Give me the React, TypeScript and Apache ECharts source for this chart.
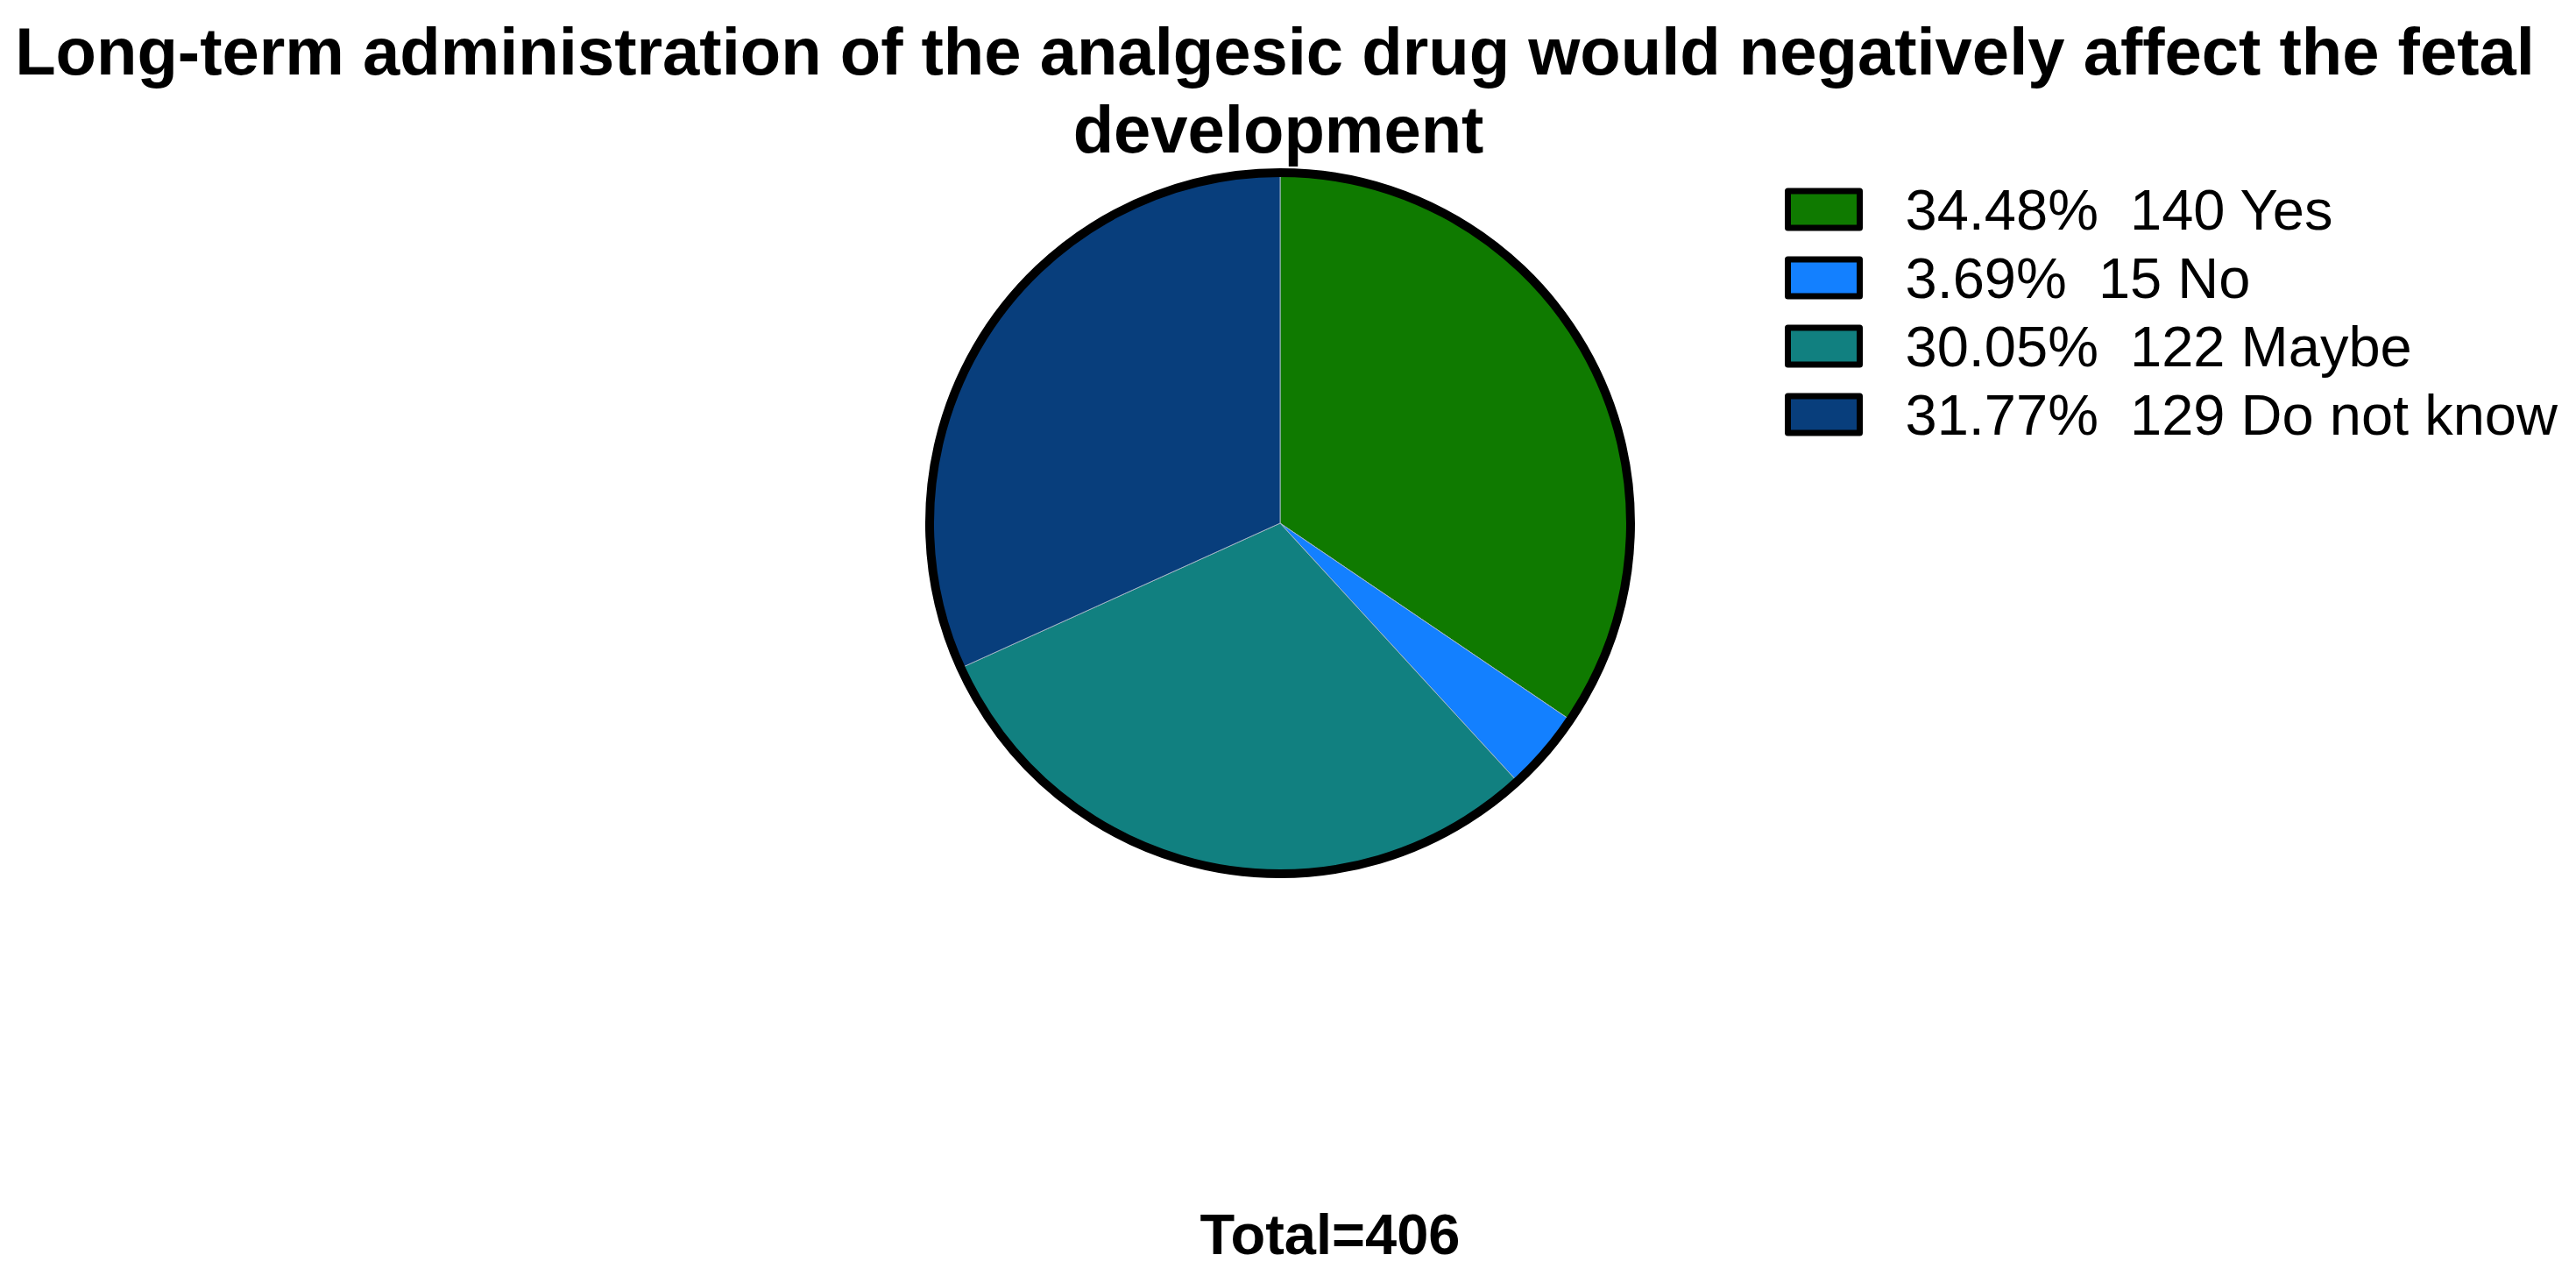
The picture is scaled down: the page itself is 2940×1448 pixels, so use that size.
import React, { useEffect, useRef } from "react";
import * as echarts from "echarts";

const categories = ["Yes", "No", "Maybe", "Do not know"];
const counts = [140, 15, 122, 129];
const colors = ["#0F7A00", "#1380FF", "#118080", "#083E7C"];
const titleLines = [
  "Long-term administration of the analgesic drug would negatively affect the fetal",
  "development",
];
const totalLabel = "Total=406";

const FONT = "'Liberation Sans', Arial, Helvetica, sans-serif";

export default function App() {
  const ref = useRef<HTMLDivElement>(null);

  useEffect(() => {
    if (!ref.current) return;
    const chart = echarts.init(ref.current, undefined, { renderer: "svg" });
    const total = counts.reduce((a, b) => a + b, 0);
    const data = categories.map((name, i) => ({
      name,
      value: counts[i],
      itemStyle: { color: colors[i] },
    }));

    const textEl = (text: string, x: number, y: number, size: number) => ({
      type: "text",
      x,
      y,
      silent: true,
      style: {
        text,
        fontFamily: FONT,
        fontSize: size,
        fontWeight: "bold",
        fill: "#000",
        align: "center",
        verticalAlign: "middle",
      },
    });

    chart.setOption({
      animation: false,
      backgroundColor: "#ffffff",
      textStyle: { fontFamily: FONT },
      graphic: [
        textEl(titleLines[0], 1455, 58, 76),
        textEl(titleLines[1], 1459, 147, 76),
        textEl(totalLabel, 1518, 1408, 65),
      ],
      legend: {
        data: categories,
        orient: "vertical",
        left: 2032,
        top: 201,
        itemWidth: 82,
        itemHeight: 42,
        itemGap: 12,
        icon: "rect",
        selectedMode: false,
        itemStyle: { borderColor: "#000", borderWidth: 7 },
        textStyle: {
          fontFamily: FONT,
          fontSize: 65,
          lineHeight: 66,
          color: "#000",
          padding: [0, 0, 0, 47],
        },
        formatter: (name: string) => {
          const i = categories.indexOf(name);
          const pct = ((counts[i] / total) * 100).toFixed(2);
          return `${pct}%  ${counts[i]} ${name}`;
        },
      },
      series: [
        {
          type: "pie",
          center: [1461, 597],
          radius: 400,
          startAngle: 90,
          clockwise: true,
          silent: true,
          label: { show: false },
          labelLine: { show: false },
          itemStyle: { borderColor: "rgba(170,185,200,0.9)", borderWidth: 1 },
          emphasis: { disabled: true },
          data,
        },
        {
          type: "pie",
          center: [1461, 597],
          radius: 400,
          silent: true,
          label: { show: false },
          labelLine: { show: false },
          emphasis: { disabled: true },
          itemStyle: { color: "rgba(0,0,0,0)", borderColor: "#000", borderWidth: 10 },
          data: [{ value: 1, name: "outline" }],
        },
      ],
    });

    return () => chart.dispose();
  }, []);

  return (
    <div
      ref={ref}
      style={{ position: "fixed", left: 0, top: 0, width: 2940, height: 1448 }}
    />
  );
}
